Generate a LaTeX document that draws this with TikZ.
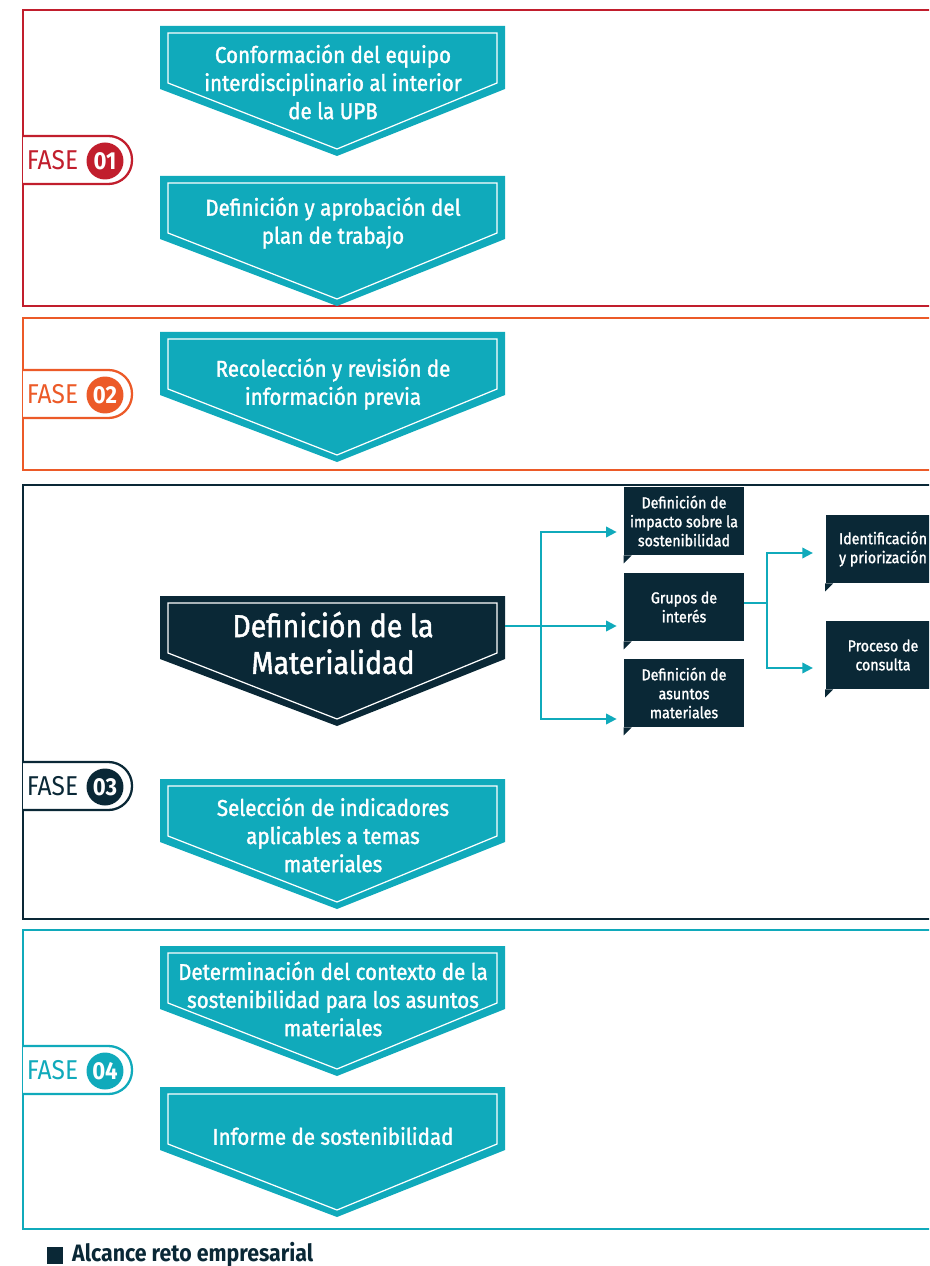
\documentclass[tikz,border=0pt]{standalone}
\usepackage{fontspec}
\setmainfont{Fira Sans}[FakeStretch=0.9]
\newfontfamily\medium{Fira Sans}[FakeStretch=0.9, FakeBold=1.5]
\usetikzlibrary{arrows.meta, positioning}
\definecolor{faseA}{RGB}{193, 30, 45}
\definecolor{faseB}{RGB}{236, 90, 40}
\definecolor{faseC}{RGB}{10, 40, 54}
\definecolor{faseD}{RGB}{16, 170, 187}

% arrow shape: #1 = top, #2 = colour
\newcommand{\stagearrow}[2]{%
  \fill[#2] (160,#1) -- (505,#1) -- (505,#1+63) -- (337,#1+130) -- (160,#1+63) -- cycle;
  \draw[white, line width=0.7pt] (168,#1+7) -- (497,#1+7) -- (497,#1+57) -- (337,#1+123) -- (168,#1+57) -- cycle;
}
% phase tab: #1 = name, #2 = centre y, #3 = colour, #4 = number
\newcommand{\fasetab}[4]{%
  \draw[#3, line width=1.3pt, fill=white, rounded corners=0.47cm]
    (23,#2-24) -- (132,#2-24) -- (132,#2+24) -- (23,#2+24);
  \node[text=#3, font=\fontsize{15.5}{15.5}\selectfont, anchor=west, inner sep=2pt] (#1) at (23,#2) {FASE};
  \node[circle, fill=#3, text=white, minimum size=0.74cm, inner sep=0pt,
        font=\bfseries\fontsize{14}{14}\selectfont] (#1n) at (105,#2+1) {#4};
}

\begin{document}
\begin{tikzpicture}[x=0.02cm, y=-0.02cm, >={Triangle[length=6pt, width=6pt]},
  stagetext/.style={text=white, align=center, font=\medium\fontsize{13}{16}\selectfont},
  subbox/.style={fill=faseC, text=white, align=center, minimum width=2.4cm,
    minimum height=1.36cm, inner sep=1pt, font=\medium\fontsize{9}{10.8}\selectfont},
  link/.style={faseD, line width=1.1pt}]
  \useasboundingbox (0,0) rectangle (929,1266);
  \clip (0,0) rectangle (929,1266);

  % Phase frames
  \draw[faseA, line width=1.2pt] (23,10) rectangle (960,306);
  \draw[faseB, line width=1.2pt] (23,318) rectangle (960,470);
  \draw[faseC, line width=1.5pt] (23,485) rectangle (960,919);
  \draw[faseD, line width=1.2pt] (23,930) rectangle (960,1229);

  % Phase 1
  \stagearrow{26}{faseD}
  \node[stagetext] (conf) at (333,82) {Conformación del equipo\\interdisciplinario al interior\\de la UPB};
  \stagearrow{176}{faseD}
  \node[stagetext] (plan) at (333,223) {Definición y aprobación del\\plan de trabajo};
  \fasetab{f1}{160}{faseA}{01}

  % Phase 2
  \stagearrow{332}{faseD}
  \node[stagetext] (recol) at (333,384) {Recolección y revisión de\\información previa};
  \fasetab{f2}{394}{faseB}{02}

  % Phase 3
  \stagearrow{596}{faseC}
  \node[text=white, align=center, font=\medium\fontsize{18}{21}\selectfont] (mat) at (333,643) {Definición de la\\Materialidad};
  \stagearrow{779}{faseD}
  \node[stagetext] (selec) at (333,835) {Selección de indicadores\\aplicables a temas\\materiales};
  \fasetab{f3}{786}{faseC}{03}

  % Sub-steps of the materiality
  \node[subbox] (imp) at (684,521) {Definición de\\impacto sobre la\\sostenibilidad};
  \node[subbox] (grp) at (684,607) {Grupos de\\interés};
  \node[subbox] (asun) at (684,693) {Definición de\\asuntos\\materiales};
  \node[subbox, minimum width=2.3cm] (ident) at (883,549) {Identificación\\y priorización};
  \node[subbox, minimum width=2.3cm] (cons) at (883,655) {Proceso de\\consulta};
  \foreach \b in {imp, grp, asun, ident, cons}
    \fill[faseC] (\b.south west) -- ++(0,8) -- ++(8,-8) -- cycle;

  % Connectors
  \coordinate (matE) at (505,626);
  \coordinate (fork1) at (541,626);
  \draw[link, ->, shorten >=4pt] (matE) -- (grp.west |- matE);
  \draw[link, ->, shorten >=4pt] (fork1) |- (imp.west |- 0,532);
  \draw[link, ->, shorten >=4pt] (fork1) |- (asun.west |- 0,719);
  \coordinate (grpE) at (grp.east |- 0,603);
  \coordinate (fork2) at (767,603);
  \draw[link] (grpE) -- (fork2);
  \draw[link, ->, shorten >=7pt] (fork2) |- (ident.west |- 0,553);
  \draw[link, ->, shorten >=7pt] (fork2) |- (cons.west |- 0,668);

  % Phase 4
  \stagearrow{946}{faseD}
  \node[stagetext] (ctx) at (333,999) {Determinación del contexto de la\\sostenibilidad para los asuntos\\materiales};
  \stagearrow{1087}{faseD}
  \node[stagetext] (inf) at (333,1136) {Informe de sostenibilidad};
  \fasetab{f4}{1070}{faseD}{04}

  % Legend
  \fill[faseC] (47,1247) rectangle (63,1264);
  \node[anchor=west, text=faseC, font=\bfseries\fontsize{13.5}{13.5}\selectfont] (leg) at (66,1254) {Alcance reto empresarial};
\end{tikzpicture}
\end{document}
